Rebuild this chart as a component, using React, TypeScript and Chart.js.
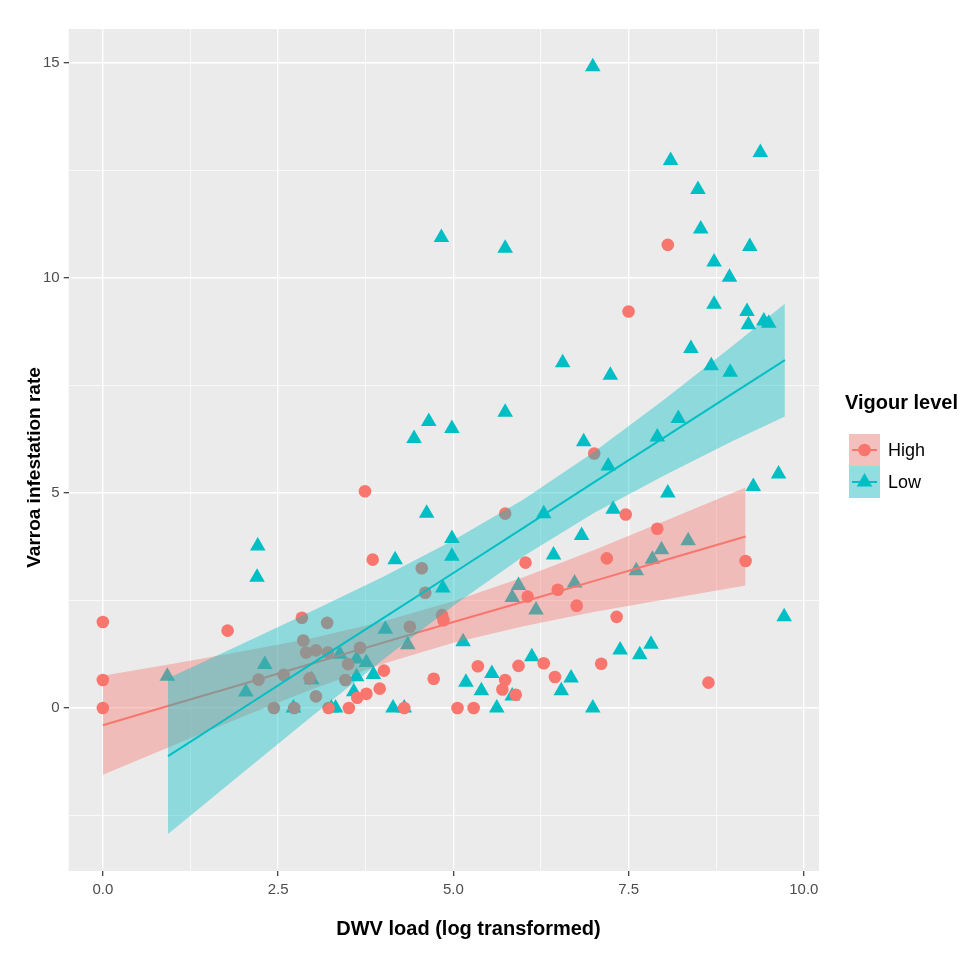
import React, { useEffect, useRef } from "react";
import { Chart, registerables } from "chart.js";

Chart.register(...registerables);

const RED = "#F8766D";
const TEAL = "#00BFC4";
const RED_FILL = "rgba(248, 118, 109, 0.4)";
const TEAL_FILL = "rgba(0, 191, 196, 0.4)";
const FONT = "'Liberation Sans', Arial, Helvetica, sans-serif";

// [DWV load, varroa rate]
const highPoints: [number, number][] = [
  [0, 2.0], [0, 0.65], [0, 0], [1.78, 1.8], [2.84, 2.1], [3.2, 1.98], [2.86, 1.57],
  [2.9, 1.29], [3.04, 1.34], [3.21, 1.29], [2.22, 0.66], [2.58, 0.77], [2.95, 0.69],
  [3.04, 0.27], [2.44, 0], [2.73, 0], [3.22, 0], [3.74, 5.04], [3.85, 3.45], [4.55, 3.25],
  [5.74, 4.52], [6.03, 3.38], [4.6, 2.68], [4.84, 2.16], [4.86, 2.04], [4.38, 1.89],
  [3.67, 1.4], [3.5, 1.02], [3.46, 0.65], [4.01, 0.87], [3.95, 0.45], [3.76, 0.33],
  [3.63, 0.24], [3.51, 0], [4.3, 0], [4.72, 0.68], [5.06, 0], [5.29, 0], [5.35, 0.97],
  [5.74, 0.65], [5.7, 0.43], [5.89, 0.31], [5.93, 0.98], [6.29, 1.04], [6.06, 2.59],
  [7.46, 4.5], [7.91, 4.17], [7.19, 3.48], [9.17, 3.42], [6.49, 2.75], [6.76, 2.38],
  [7.33, 2.12], [7.11, 1.03], [6.45, 0.72], [8.64, 0.59], [7.5, 9.22], [8.06, 10.77],
  [7.01, 5.92],
];

const lowPoints: [number, number][] = [
  [2.21, 3.77], [2.2, 3.04], [0.92, 0.74], [2.31, 1.01], [2.04, 0.37], [2.98, 0.66],
  [2.72, 0], [4.62, 4.53], [4.98, 3.94], [4.98, 3.53], [4.17, 3.45], [4.85, 2.79],
  [6.29, 4.52], [5.93, 2.85], [5.84, 2.57], [6.18, 2.28], [4.03, 1.83], [4.35, 1.47],
  [5.14, 1.54], [3.38, 1.25], [3.62, 1.14], [3.76, 1.06], [3.62, 0.73], [3.86, 0.78],
  [3.58, 0.38], [3.26, 0], [3.32, 0], [4.14, 0], [4.3, 0], [5.18, 0.6], [5.55, 0.8],
  [5.4, 0.4], [5.62, 0], [5.84, 0.28], [6.12, 1.19], [7.28, 4.62], [8.06, 5.0],
  [9.28, 5.15], [9.64, 5.44], [6.83, 4.01], [6.43, 3.56], [8.35, 3.89], [7.97, 3.68],
  [7.84, 3.46], [7.61, 3.19], [6.73, 2.91], [9.72, 2.12], [7.38, 1.35], [7.82, 1.48],
  [7.66, 1.24], [6.68, 0.7], [6.54, 0.4], [6.99, 0], [4.83, 10.94], [5.74, 10.69],
  [6.56, 8.03], [7.24, 7.74], [5.74, 6.88], [4.65, 6.66], [4.44, 6.27], [4.98, 6.5],
  [6.86, 6.19], [7.21, 5.63], [6.99, 14.91], [8.1, 12.73], [9.38, 12.92], [8.49, 12.06],
  [8.53, 11.14], [9.23, 10.73], [8.72, 10.37], [8.94, 10.02], [8.72, 9.39], [9.19, 9.22],
  [9.21, 8.91], [9.43, 9.0], [9.5, 8.95], [8.39, 8.36], [8.68, 7.96], [8.95, 7.81],
  [8.21, 6.73], [7.91, 6.3],
];

// linear fits with their confidence bands, read at a few x positions
const highFitX = [0, 1, 2, 3, 4, 5, 6, 7, 8, 9.17];
const highFit = [-0.4, 0.08, 0.56, 1.04, 1.52, 2.0, 2.47, 2.95, 3.43, 3.99];
const highUpper = [0.75, 1.03, 1.32, 1.63, 2.01, 2.48, 3.04, 3.67, 4.34, 5.13];
const highLower = [-1.55, -0.87, -0.2, 0.45, 1.03, 1.52, 1.9, 2.23, 2.52, 2.85];

const lowFitX = [0.93, 2, 3, 4, 5, 6, 7, 8, 9, 9.73];
const lowFit = [-1.12, 0.0, 1.05, 2.09, 3.14, 4.19, 5.24, 6.28, 7.33, 8.09];
const lowUpper = [0.69, 1.5, 2.27, 3.05, 3.9, 4.85, 5.95, 7.16, 8.44, 9.4];
const lowLower = [-2.93, -1.5, -0.17, 1.13, 2.38, 3.53, 4.53, 5.4, 6.22, 6.78];

const xRange = [-0.487, 10.217];
const yRange = [-3.79, 15.79];
const xTicks = [0, 2.5, 5, 7.5, 10];
const xMinor = [1.25, 3.75, 6.25, 8.75];
const yTicks = [0, 5, 10, 15];
const yMinor = [-2.5, 2.5, 7.5, 12.5];

const xTitle = "DWV load (log transformed)";
const yTitle = "Varroa infestation rate";
const legendTitle = "Vigour level";
const legendLabels = ["High", "Low"];

const toXY = (xs: number[], ys: number[]) => xs.map((x, i) => ({ x, y: ys[i] }));

const panelPlugin = {
  id: "panel",
  beforeDraw(chart: any) {
    const { ctx, chartArea: a } = chart;
    ctx.save();
    ctx.fillStyle = "#FFFFFF";
    ctx.fillRect(0, 0, chart.width, chart.height);
    ctx.fillStyle = "#EBEBEB";
    ctx.fillRect(a.left, a.top, a.right - a.left, a.bottom - a.top);
    ctx.restore();
  },
};

// axis titles sit a little off the panel centre in the original
const titlesPlugin = {
  id: "axisTitles",
  afterDraw(chart: any) {
    const ctx = chart.ctx;
    ctx.save();
    ctx.fillStyle = "#000000";
    ctx.textAlign = "center";
    ctx.textBaseline = "alphabetic";
    ctx.font = `bold 20px ${FONT}`;
    ctx.fillText(xTitle, 468.5, 935);
    ctx.translate(40, 467.5);
    ctx.rotate(-Math.PI / 2);
    ctx.font = `bold 19px ${FONT}`;
    ctx.fillText(yTitle, 0, 0);
    ctx.restore();
  },
};

const legendPlugin = {
  id: "vigourLegend",
  afterDraw(chart: any) {
    const ctx = chart.ctx;
    const colors = [RED, TEAL];
    const fills = [RED_FILL, TEAL_FILL];
    ctx.save();
    ctx.fillStyle = "#000000";
    ctx.font = `bold 20px ${FONT}`;
    ctx.textBaseline = "alphabetic";
    ctx.textAlign = "left";
    ctx.fillText(legendTitle, 845, 409);
    legendLabels.forEach((label, i) => {
      const x = 849;
      const y = 434 + i * 32;
      const w = 31;
      const h = 32;
      const cx = x + w / 2;
      const cy = y + h / 2;
      ctx.fillStyle = "#F2F2F2";
      ctx.fillRect(x, y, w, h);
      ctx.fillStyle = fills[i];
      ctx.fillRect(x, y, w, h);
      ctx.strokeStyle = colors[i];
      ctx.lineWidth = 2;
      ctx.beginPath();
      ctx.moveTo(x + 3, cy);
      ctx.lineTo(x + w - 3, cy);
      ctx.stroke();
      ctx.fillStyle = colors[i];
      ctx.beginPath();
      if (i === 0) {
        ctx.arc(cx, cy, 6.3, 0, Math.PI * 2);
      } else {
        const r = 9;
        for (let k = 0; k < 3; k++) {
          const ang = (k * 2 * Math.PI) / 3;
          const px = cx + Math.sin(ang) * r;
          const py = cy - Math.cos(ang) * r;
          if (k === 0) ctx.moveTo(px, py);
          else ctx.lineTo(px, py);
        }
        ctx.closePath();
      }
      ctx.fill();
      ctx.fillStyle = "#000000";
      ctx.font = `18px ${FONT}`;
      ctx.textBaseline = "middle";
      ctx.fillText(label, x + w + 8, cy + 1);
    });
    ctx.restore();
  },
};

const isMajor = (v: number, majors: number[]) => majors.some((m) => Math.abs(m - v) < 1e-9);

export default function App() {
  const canvasRef = useRef<HTMLCanvasElement | null>(null);

  useEffect(() => {
    if (!canvasRef.current) return;

    const chart = new Chart(canvasRef.current, {
      type: "scatter",
      data: {
        datasets: [
          {
            type: "line",
            label: "Low fit",
            data: toXY(lowFitX, lowFit),
            borderColor: TEAL,
            borderWidth: 2,
            pointRadius: 0,
            fill: false,
            order: 0,
          },
          {
            type: "line",
            label: "Low upper",
            data: toXY(lowFitX, lowUpper),
            borderColor: "rgba(0,0,0,0)",
            borderWidth: 0,
            pointRadius: 0,
            backgroundColor: TEAL_FILL,
            fill: "+1",
            order: 1,
          },
          {
            type: "line",
            label: "Low lower",
            data: toXY(lowFitX, lowLower),
            borderColor: "rgba(0,0,0,0)",
            borderWidth: 0,
            pointRadius: 0,
            fill: false,
            order: 1,
          },
          {
            type: "line",
            label: "High fit",
            data: toXY(highFitX, highFit),
            borderColor: RED,
            borderWidth: 2,
            pointRadius: 0,
            fill: false,
            order: 2,
          },
          {
            type: "line",
            label: "High upper",
            data: toXY(highFitX, highUpper),
            borderColor: "rgba(0,0,0,0)",
            borderWidth: 0,
            pointRadius: 0,
            backgroundColor: RED_FILL,
            fill: "+1",
            order: 3,
          },
          {
            type: "line",
            label: "High lower",
            data: toXY(highFitX, highLower),
            borderColor: "rgba(0,0,0,0)",
            borderWidth: 0,
            pointRadius: 0,
            fill: false,
            order: 3,
          },
          {
            label: "High",
            data: highPoints.map(([x, y]) => ({ x, y })),
            pointStyle: "circle",
            pointRadius: 6.3,
            pointBorderWidth: 0,
            backgroundColor: RED,
            borderColor: RED,
            order: 4,
          },
          {
            label: "Low",
            data: lowPoints.map(([x, y]) => ({ x, y })),
            pointStyle: "triangle",
            pointRadius: 9,
            pointBorderWidth: 0,
            backgroundColor: TEAL,
            borderColor: TEAL,
            order: 5,
          },
        ],
      },
      options: {
        responsive: false,
        animation: false,
        events: [],
        layout: { padding: { left: 8.7, top: 29, right: 155, bottom: 10 } },
        plugins: {
          legend: { display: false },
          tooltip: { enabled: false },
        },
        scales: {
          x: {
            type: "linear",
            min: xRange[0],
            max: xRange[1],
            afterBuildTicks: (s: any) => {
              s.ticks = [...xTicks, ...xMinor].sort((a, b) => a - b).map((value) => ({ value }));
            },
            afterFit: (s: any) => {
              s.height = 73;
            },
            border: { display: false },
            grid: {
              color: "#FFFFFF",
              lineWidth: (c: any) => (isMajor(c.tick.value, xTicks) ? 1.4 : 0.7),
              drawTicks: true,
              tickLength: 5,
              tickWidth: 1.2,
              tickColor: (c: any) => (isMajor(c.tick.value, xTicks) ? "#333333" : "rgba(0,0,0,0)"),
            },
            ticks: {
              autoSkip: false,
              maxRotation: 0,
              padding: 5,
              color: "#4D4D4D",
              font: { family: FONT, size: 15 },
              callback: (v: any) => (isMajor(Number(v), xTicks) ? Number(v).toFixed(1) : ""),
            },
            title: { display: false },
          },
          y: {
            type: "linear",
            min: yRange[0],
            max: yRange[1],
            afterBuildTicks: (s: any) => {
              s.ticks = [...yTicks, ...yMinor].sort((a, b) => a - b).map((value) => ({ value }));
            },
            afterFit: (s: any) => {
              s.width = 60;
            },
            border: { display: false },
            grid: {
              color: "#FFFFFF",
              lineWidth: (c: any) => (isMajor(c.tick.value, yTicks) ? 1.4 : 0.7),
              drawTicks: true,
              tickLength: 5,
              tickWidth: 1.2,
              tickColor: (c: any) => (isMajor(c.tick.value, yTicks) ? "#333333" : "rgba(0,0,0,0)"),
            },
            ticks: {
              autoSkip: false,
              padding: 4,
              color: "#4D4D4D",
              font: { family: FONT, size: 15 },
              callback: (v: any) => (isMajor(Number(v), yTicks) ? String(v) : ""),
            },
            title: { display: false },
          },
        },
      } as any,
      plugins: [panelPlugin, titlesPlugin, legendPlugin],
    });

    return () => {
      chart.destroy();
    };
  }, []);

  return (
    <div style={{ position: "absolute", left: 0, top: 0, width: 974, height: 954, background: "#FFFFFF" }}>
      <canvas ref={canvasRef} width={974} height={954} />
    </div>
  );
}
